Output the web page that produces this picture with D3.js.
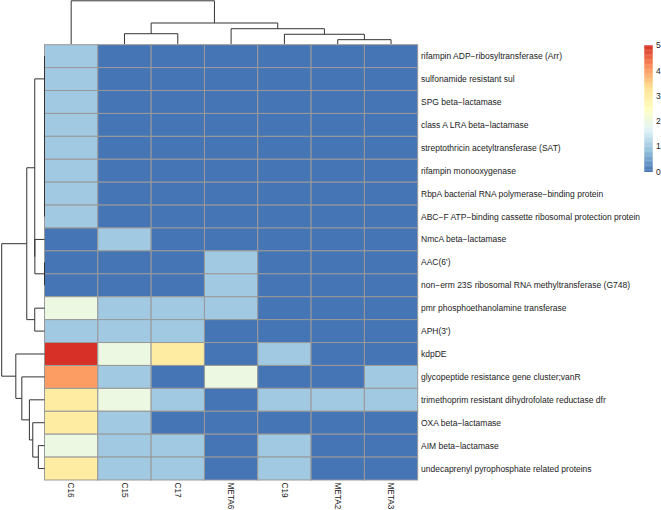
<!DOCTYPE html>
<meta charset="utf-8">
<style>
body { margin: 0; background: #fff; }
svg { display: block; }
text { font-family: "Liberation Sans", Helvetica, Arial, sans-serif; font-size: 8.5px; fill: #222; }
.collab { font-size: 8.2px; }
.cells rect { stroke: #999; stroke-width: 1px; }
.dendro path { fill: none; stroke: #333; stroke-width: 1px; }
</style>
<svg width="661" height="510"></svg>
<script src="https://cdn.jsdelivr.net/npm/d3@7"></script>
<script>

// columns (samples) in clustered order
var colLabels = ["C16", "C15", "C17", "META6", "C19", "META2", "META3"];

// rows (genes) in clustered order
var rowLabels = [
  "rifampin ADP\u2212ribosyltransferase (Arr)",
  "sulfonamide resistant sul",
  "SPG beta\u2212lactamase",
  "class A LRA beta\u2212lactamase",
  "streptothricin acetyltransferase (SAT)",
  "rifampin monooxygenase",
  "RbpA bacterial RNA polymerase\u2212binding protein",
  "ABC\u2212F ATP\u2212binding cassette ribosomal protection protein",
  "NmcA beta\u2212lactamase",
  "AAC(6')",
  "non\u2212erm 23S ribosomal RNA methyltransferase (G748)",
  "pmr phosphoethanolamine transferase",
  "APH(3')",
  "kdpDE",
  "glycopeptide resistance gene cluster;vanR",
  "trimethoprim resistant dihydrofolate reductase dfr",
  "OXA beta\u2212lactamase",
  "AIM beta\u2212lactamase",
  "undecaprenyl pyrophosphate related proteins"
];

// one row per gene, one value per column
var values = [
  [1, 0, 0, 0, 0, 0, 0],
  [1, 0, 0, 0, 0, 0, 0],
  [1, 0, 0, 0, 0, 0, 0],
  [1, 0, 0, 0, 0, 0, 0],
  [1, 0, 0, 0, 0, 0, 0],
  [1, 0, 0, 0, 0, 0, 0],
  [1, 0, 0, 0, 0, 0, 0],
  [1, 0, 0, 0, 0, 0, 0],
  [0, 1, 0, 0, 0, 0, 0],
  [0, 0, 0, 1, 0, 0, 0],
  [0, 0, 0, 1, 0, 0, 0],
  [2, 1, 1, 1, 0, 0, 0],
  [1, 1, 1, 0, 0, 0, 0],
  [5, 2, 3, 0, 1, 0, 0],
  [4, 1, 0, 2, 0, 0, 1],
  [3, 2, 1, 0, 1, 1, 1],
  [3, 1, 0, 0, 0, 0, 0],
  [2, 1, 1, 0, 1, 0, 0],
  [3, 1, 1, 0, 1, 0, 0]
];

// hclust style merges: negative = leaf -(index+1), positive = earlier merge step (1-based)
var rowMerge = [
  [-7, -8, 0], [-6, 1, 0], [-5, 2, 0], [-4, 3, 0], [-3, 4, 0], [-2, 5, 0], [-1, 6, 0],
  [-10, -11, 0],
  [-9, 8, 0.225],
  [7, 9, 0.228],
  [-12, -13, 0.228],
  [10, 11, 0.414],
  [-18, -19, 0.144],
  [-17, 13, 0.274],
  [-16, 14, 0.353],
  [-15, 15, 0.530],
  [-14, 16, 0.670],
  [12, 17, 1.0]
];

var colMerge = [
  [-6, -7, 0.10],
  [-5, 1, 0.225],
  [-4, 2, 0.354],
  [-2, -3, 0.238],
  [4, 3, 0.486],
  [-1, 5, 1.0]
];

var legendTicks = [0, 1, 2, 3, 4, 5];
var paletteStops = ["#4575B4", "#91BFDB", "#E0F3F8", "#FFFFBF", "#FEE090", "#FC8D59", "#D73027"];

var svg = d3.select("svg");

var x = d3.scaleBand().domain(d3.range(colLabels.length)).range([44.5, 417.7]);
var y = d3.scaleBand().domain(d3.range(rowLabels.length)).range([44.7, 480]);

var color = d3.scaleLinear()
    .domain(paletteStops.map(function(d, i) { return i * 5 / (paletteStops.length - 1); }))
    .range(paletteStops)
    .interpolate(d3.interpolateRgb);

// heatmap cells
var cells = [];
values.forEach(function(row, i) {
  row.forEach(function(v, j) { cells.push({r: i, c: j, v: v}); });
});

svg.append("g").attr("class", "cells")
  .selectAll("rect")
  .data(cells)
  .enter().append("rect")
    .attr("x", function(d) { return x(d.c); })
    .attr("y", function(d) { return y(d.r); })
    .attr("width", x.bandwidth())
    .attr("height", y.bandwidth())
    .attr("fill", function(d) { return color(d.v); });

// row labels
svg.append("g")
  .selectAll("text")
  .data(rowLabels)
  .enter().append("text")
    .attr("x", 421)
    .attr("y", function(d, i) { return y(i) + y.bandwidth() / 2; })
    .attr("dy", "0.35em")
    .text(function(d) { return d; });

// column labels, rotated
svg.append("g")
  .selectAll("text")
  .data(colLabels)
  .enter().append("text")
    .attr("class", "collab")
    .attr("transform", function(d, i) {
      return "translate(" + (x(i) + x.bandwidth() / 2) + ",482.5) rotate(90)";
    })
    .attr("dy", "0.35em")
    .text(function(d) { return d; });

// dendrogram segments from a merge list
function dendroPaths(merge, leafPos, hScale, horizontal) {
  var nodes = [];
  var paths = [];
  function get(ref) {
    if (ref < 0) return {p: leafPos(-ref - 1), h: 0};
    return nodes[ref - 1];
  }
  merge.forEach(function(m) {
    var a = get(m[0]), b = get(m[1]), h = m[2];
    var hv = hScale(h);
    var pts = [[hScale(a.h), a.p], [hv, a.p], [hv, b.p], [hScale(b.h), b.p]];
    if (!horizontal) pts = pts.map(function(q) { return [q[1], q[0]]; });
    paths.push(pts);
    nodes.push({p: (a.p + b.p) / 2, h: h});
  });
  return paths;
}

var line = d3.line();

var rowH = d3.scaleLinear().domain([0, d3.max(rowMerge, function(d) { return d[2]; })]).range([44.5, 1.7]);
var colH = d3.scaleLinear().domain([0, d3.max(colMerge, function(d) { return d[2]; })]).range([44, 0.8]);

svg.append("g").attr("class", "dendro")
  .selectAll("path")
  .data(dendroPaths(rowMerge, function(i) { return y(i) + y.bandwidth() / 2; }, rowH, true))
  .enter().append("path")
    .attr("d", line);

svg.append("g").attr("class", "dendro")
  .selectAll("path")
  .data(dendroPaths(colMerge, function(i) { return x(i) + x.bandwidth() / 2; }, colH, false))
  .enter().append("path")
    .attr("d", line);

// legend colour bar
var ly = d3.scaleLinear().domain([0, 5]).range([171.7, 45.3]);
var steps = d3.range(0, 100).map(function(i) { return i / 100 * 5; });
var stepH = (ly(0) - ly(5)) / steps.length;

var legend = svg.append("g");
legend.selectAll("rect")
  .data(steps)
  .enter().append("rect")
    .attr("x", 644.3)
    .attr("y", function(d) { return ly(d) - stepH; })
    .attr("width", 8.4)
    .attr("height", stepH + 0.3)
    .attr("fill", function(d) { return color(d + 2.5 / steps.length); });

legend.selectAll("text")
  .data(legendTicks)
  .enter().append("text")
    .attr("x", 656)
    .attr("y", function(d) { return ly(d); })
    .attr("dy", "0.35em")
    .text(function(d) { return d; });

</script>
